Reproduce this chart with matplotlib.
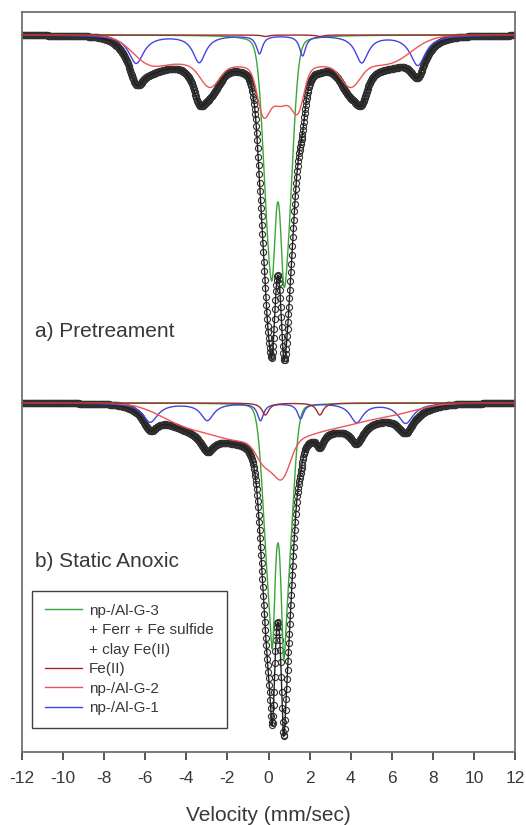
import numpy as np
import matplotlib
matplotlib.use("Agg")
import matplotlib.pyplot as plt
from matplotlib.lines import Line2D

plt.rcParams['font.family'] = ['Liberation Sans', 'DejaVu Sans']
plt.rcParams['axes.unicode_minus'] = False

# velocity channels (mm/sec)
velocity = np.linspace(-12, 12, 1024)
xticks = list(range(-12, 13, 2))

# baselines of the two stacked spectra (arbitrary absorption units)
base_a = 0
base_b = -368

# ---- a) Pretreament ----
# np-/Al-G-1 sextet (Lorentzian): position, hwhm, depth
a_g1_pos = [-6.44, -3.37, -0.44, 1.66, 4.54, 7.27]
a_g1_wid = [0.45, 0.38, 0.18, 0.18, 0.38, 0.45]
a_g1_dep = [28, 27, 18, 20, 27, 30]
# np-/Al-G-2 broad distribution (Gaussian): position, sigma, depth
a_g2_pos = [-4.0, -1.0, 2.0, 5.0, -5.9, -2.85, -0.27, 0.58, 1.45, 4.0, 6.3]
a_g2_wid = [1.5, 1.5, 1.5, 1.5, 0.8, 0.45, 0.28, 0.6, 0.28, 0.45, 0.8]
a_g2_dep = [25, 25, 25, 25, 18, 22, 36, 40, 33, 22, 8]
# np-/Al-G-3 + Ferr + Fe sulfide + clay Fe(II): sharp doublet + broad doublet
a_g3_pos = [0.2, 0.73]
a_g3_wid = [0.22, 0.22]
a_g3_dep = [96, 104]
a_g3b_pos = [0.015, 0.915]
a_g3b_wid = [0.28, 0.28]
a_g3b_dep = [155, 155]
# Fe(II) doublet
a_fe_pos = [-0.15, 2.5]
a_fe_wid = [0.2, 0.2]
a_fe_dep = [1.5, 1.5]

# ---- b) Static Anoxic ----
b_g1_pos = [-5.76, -2.98, -0.39, 1.56, 4.29, 6.68]
b_g1_wid = [0.45, 0.38, 0.18, 0.18, 0.38, 0.45]
b_g1_dep = [19, 17, 17, 15, 19, 20]
b_g2_pos = [-4.0, -1.5, 1.0, 3.5, 6.0, -0.2, 0.65]
b_g2_wid = [1.3, 1.3, 1.3, 1.3, 1.3, 0.4, 0.4]
b_g2_dep = [20, 30, 30, 18, 10, 22, 36]
b_g3_pos = [0.2, 0.73]
b_g3_wid = [0.155, 0.155]
b_g3_dep = [112, 124]
b_g3b_pos = [0.015, 0.915]
b_g3b_wid = [0.28, 0.28]
b_g3b_dep = [145, 145]
b_fe_pos = [-0.15, 2.5]
b_fe_wid = [0.2, 0.2]
b_fe_dep = [12, 12]

legend_labels = ["np-/Al-G-3", "+ Ferr + Fe sulfide", "+ clay Fe(II)",
                 "Fe(II)", "np-/Al-G-2", "np-/Al-G-1"]
panel_labels = ["a) Pretreament", "b) Static Anoxic"]

c_g3 = "#3aa63a"
c_fe = "#9c2b2b"
c_g2 = "#f05555"
c_g1 = "#4444dd"


def lor(v, pos, wid, dep):
    out = np.zeros_like(v)
    for c, w, d in zip(pos, wid, dep):
        out += d / (1 + ((v - c) / w) ** 2)
    return out


def gau(v, pos, wid, dep):
    out = np.zeros_like(v)
    for c, s, d in zip(pos, wid, dep):
        out += d * np.exp(-0.5 * ((v - c) / s) ** 2)
    return out


fig = plt.figure(figsize=(5.26, 8.25), dpi=100)
ax = fig.add_axes([22 / 526, 1 - 752 / 825, 493 / 526, 740 / 825])

spectra = [
    (base_a,
     lor(velocity, a_g1_pos, a_g1_wid, a_g1_dep),
     gau(velocity, a_g2_pos, a_g2_wid, a_g2_dep),
     lor(velocity, a_g3_pos, a_g3_wid, a_g3_dep) + gau(velocity, a_g3b_pos, a_g3b_wid, a_g3b_dep),
     lor(velocity, a_fe_pos, a_fe_wid, a_fe_dep)),
    (base_b,
     lor(velocity, b_g1_pos, b_g1_wid, b_g1_dep),
     gau(velocity, b_g2_pos, b_g2_wid, b_g2_dep),
     lor(velocity, b_g3_pos, b_g3_wid, b_g3_dep) + gau(velocity, b_g3b_pos, b_g3b_wid, b_g3b_dep),
     lor(velocity, b_fe_pos, b_fe_wid, b_fe_dep)),
]

for base, g1, g2, g3, fe in spectra:
    total = base - (g1 + g2 + g3 + fe)
    ax.plot(velocity, total, ls="none", marker="o", ms=4.4, mfc="none",
            mec="#303030", mew=0.8, zorder=2)
    ax.plot(velocity, total, color="#202020", lw=1.0, zorder=2.5)
    ax.plot(velocity, base - g3, color=c_g3, lw=1.0, zorder=3)
    ax.plot(velocity, base - g1, color=c_g1, lw=1.0, zorder=3)
    ax.plot(velocity, base - g2, color=c_g2, lw=1.0, zorder=3)
    ax.plot(velocity, base - fe, color=c_fe, lw=1.0, zorder=3)

ax.text(0.026, 0.561, panel_labels[0], transform=ax.transAxes, fontsize=15,
        color="#383838")
ax.text(0.026, 0.25, panel_labels[1], transform=ax.transAxes, fontsize=15,
        color="#383838")

handles = [
    Line2D([], [], color=c_g3, lw=1.0),
    Line2D([], [], color="none"),
    Line2D([], [], color="none"),
    Line2D([], [], color=c_fe, lw=1.0),
    Line2D([], [], color=c_g2, lw=1.0),
    Line2D([], [], color=c_g1, lw=1.0),
]
leg = ax.legend(handles, legend_labels, loc="lower left",
                bbox_to_anchor=(0.02, 0.032), borderaxespad=0, fontsize=11,
                frameon=True, fancybox=False, framealpha=1, edgecolor="#404040",
                handlelength=2.4, handletextpad=0.5, labelspacing=0.36,
                borderpad=0.85)
leg.get_frame().set_linewidth(1.0)
for t in leg.get_texts():
    t.set_color("#383838")

ax.set_xlim(-12, 12)
ax.set_ylim(-717, 23)
ax.set_xticks(xticks)
ax.set_yticks([])
ax.tick_params(axis="x", direction="out", length=6, width=1.2, pad=8,
               labelsize=12.5, colors="#383838")
for s in ax.spines.values():
    s.set_color("#707070")
    s.set_linewidth(1.3)
ax.set_xlabel("Velocity (mm/sec)", fontsize=15, labelpad=14, color="#383838")

fig.savefig("out.png", dpi=100)
